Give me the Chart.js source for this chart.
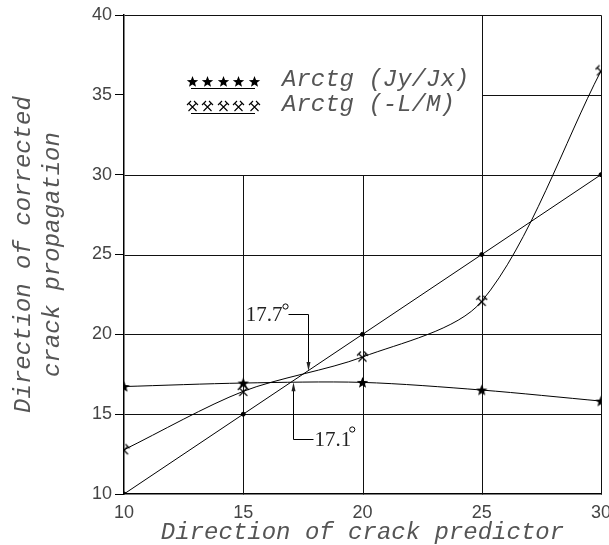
<!DOCTYPE html>
<html>
<head>
<meta charset="utf-8">
<script src="https://cdn.jsdelivr.net/npm/chart.js@4"></script>
<style>
  html, body { margin: 0; padding: 0; background: #fff; }
  #wrap { width: 609px; height: 545px; }
</style>
</head>
<body>
<div id="wrap"><canvas id="grafico"></canvas></div>
<script>
// datos
const predictor = [10, 15, 20, 25, 30]
const arctgJyJx = [16.73, 16.95, 16.99, 16.51, 15.82]
const arctgLM = [12.77, 16.43, 18.58, 22.07, 36.5]
const igualdad = [10, 15, 20, 25, 30]
const xTicks = [10, 15, 20, 25, 30]
const yTicks = [10, 15, 20, 25, 30, 35, 40]
const leyenda = ['Arctg (Jy/Jx)', 'Arctg (-L/M)']
// tramos de rejilla en unidades de datos [x1, y1, x2, y2]
const rejilla = [
  [10, 15, 30, 15], [10, 20, 30, 20], [10, 25, 30, 25], [10, 30, 30, 30],
  [25, 35, 30, 35], [10, 40, 30, 40],
  [15, 10, 15, 30], [20, 10, 20, 30], [25, 10, 25, 40], [30, 10, 30, 40],
]
const cortes = [
  { x: 17.7, y: 17.7, text: '17.7' },
  { x: 17.1, y: 17.0, text: '17.1' },
]

// marcadores
const estrella = (() => {
  const c = document.createElement('canvas')
  c.width = 13; c.height = 13
  const g = c.getContext('2d')
  g.fillStyle = '#000'
  g.beginPath()
  for (let i = 0; i < 10; i++) {
    const r = i % 2 === 0 ? 6 : 2.6
    const a = -Math.PI / 2 + i * Math.PI / 5
    const px = 6.5 + r * Math.cos(a), py = 7 + r * Math.sin(a)
    i === 0 ? g.moveTo(px, py) : g.lineTo(px, py)
  }
  g.closePath()
  g.fill()
  return c
})()

const martillos = (() => {
  const c = document.createElement('canvas')
  c.width = 13; c.height = 13
  const g = c.getContext('2d')
  g.strokeStyle = '#000'
  g.lineWidth = 1.1
  g.beginPath()
  g.moveTo(3, 3.5); g.lineTo(10.5, 11)
  g.moveTo(10, 3.5); g.lineTo(2.5, 11)
  g.moveTo(1, 5); g.lineTo(5, 1)
  g.moveTo(8, 1); g.lineTo(12, 5)
  g.stroke()
  return c
})()

const puntos = (serie) => predictor.map((x, i) => ({ x: x, y: serie[i] }))

const rejillaPlugin = {
  id: 'rejilla',
  beforeDatasetsDraw(chart) {
    const { ctx, scales } = chart
    ctx.save()
    ctx.strokeStyle = '#111'
    ctx.lineWidth = 1
    rejilla.forEach(([x1, y1, x2, y2]) => {
      ctx.beginPath()
      ctx.moveTo(Math.round(scales.x.getPixelForValue(x1)) + 0.5, Math.round(scales.y.getPixelForValue(y1)) + 0.5)
      ctx.lineTo(Math.round(scales.x.getPixelForValue(x2)) + 0.5, Math.round(scales.y.getPixelForValue(y2)) + 0.5)
      ctx.stroke()
    })
    ctx.restore()
  },
}

const notasPlugin = {
  id: 'notas',
  afterDraw(chart) {
    const { ctx, scales, chartArea } = chart
    ctx.save()
    ctx.strokeStyle = '#000'
    ctx.fillStyle = '#000'
    ctx.lineWidth = 1

    // leyenda
    const marcas = [estrella, martillos]
    const filas = [82, 107]
    marcas.forEach((img, i) => {
      const cy = filas[i]
      for (let k = 0; k < 5; k++) {
        ctx.drawImage(img, Math.round(chartArea.left + 68 + k * 15.6 - 6.5), cy - 7)
      }
      ctx.beginPath()
      ctx.moveTo(chartArea.left + 67, cy + 6.5)
      ctx.lineTo(chartArea.left + 131, cy + 6.5)
      ctx.stroke()
      ctx.font = 'italic 24px "Liberation Mono", monospace'
      ctx.fillStyle = '#555'
      ctx.textAlign = 'left'
      ctx.textBaseline = 'alphabetic'
      ctx.fillText(leyenda[i], chartArea.left + 158, cy + 4)
    })

    // anotaciones 17.7 y 17.1
    ctx.fillStyle = '#222'
    ctx.font = '21px "Liberation Serif", serif'
    ctx.textBaseline = 'middle'
    cortes.forEach((c, i) => {
      const px = Math.round(scales.x.getPixelForValue(c.x)) + 0.5
      const py = scales.y.getPixelForValue(c.y)
      const dir = i === 0 ? -1 : 1
      const codo = Math.round(py + dir * 57) + 0.5
      ctx.beginPath()
      ctx.moveTo(px, py + dir * 7)
      ctx.lineTo(px, codo)
      ctx.lineTo(px + dir * 20, codo)
      ctx.stroke()
      ctx.beginPath()
      ctx.moveTo(px, py)
      ctx.lineTo(px - 2, py + dir * 9)
      ctx.lineTo(px + 2, py + dir * 9)
      ctx.closePath()
      ctx.fill()
      if (i === 0) {
        ctx.textAlign = 'right'
        ctx.fillText(c.text, px - 26, codo + 1)
        ctx.beginPath()
        ctx.arc(px - 23, codo - 8, 2.6, 0, Math.PI * 2)
        ctx.stroke()
      } else {
        ctx.textAlign = 'left'
        ctx.fillText(c.text, px + 21, codo + 1)
        const w = ctx.measureText(c.text).width
        ctx.beginPath()
        ctx.arc(px + 21 + w + 1, codo - 10, 2.6, 0, Math.PI * 2)
        ctx.stroke()
      }
    })
    ctx.restore()
  },
}

const grafico = new Chart(document.getElementById('grafico'), {
  type: 'line',
  data: {
    datasets: [
      {
        label: 'y = x',
        data: puntos(igualdad),
        borderColor: '#000',
        borderWidth: 1,
        backgroundColor: '#000',
        pointRadius: 2,
        pointStyle: 'circle',
        tension: 0,
      },
      {
        label: leyenda[0],
        data: puntos(arctgJyJx),
        borderColor: '#000',
        borderWidth: 1,
        pointStyle: estrella,
        tension: 0.3,
      },
      {
        label: leyenda[1],
        data: puntos(arctgLM),
        borderColor: '#000',
        borderWidth: 1,
        pointStyle: martillos,
        tension: 0.3,
      },
    ],
  },
  options: {
    responsive: true,
    maintainAspectRatio: false,
    animation: false,
    events: [],
    layout: { padding: { top: 15, right: 8, left: 0, bottom: 0 } },
    plugins: {
      legend: { display: false },
      tooltip: { enabled: false },
    },
    scales: {
      x: {
        type: 'linear',
        min: 10,
        max: 30,
        afterBuildTicks: (s) => { s.ticks = xTicks.map((v) => ({ value: v })) },
        afterFit: (s) => { s.height = 51; s.paddingLeft = 0; s.paddingRight = 0 },
        border: { display: true, color: '#000', width: 1.5 },
        grid: { drawOnChartArea: false, drawTicks: false },
        ticks: {
          color: '#444',
          padding: 8,
          maxRotation: 0,
          font: { family: '"Liberation Sans", sans-serif', size: 18 },
        },
        title: {
          display: true,
          text: 'Direction of crack predictor',
          color: '#555',
          padding: 0,
          font: { family: '"Liberation Mono", monospace', size: 24, style: 'italic', lineHeight: 1 },
        },
      },
      y: {
        min: 10,
        max: 40,
        afterBuildTicks: (s) => { s.ticks = yTicks.map((v) => ({ value: v })) },
        afterFit: (s) => { s.width = 124; s.paddingTop = 0; s.paddingBottom = 0 },
        border: { display: true, color: '#000', width: 1.5 },
        grid: { drawOnChartArea: false, drawTicks: true, tickLength: 9, color: '#000' },
        ticks: {
          color: '#444',
          padding: 3,
          font: { family: '"Liberation Sans", sans-serif', size: 18 },
        },
        title: {
          display: true,
          text: ['Direction of corrected', 'crack propagation'],
          color: '#555',
          padding: { top: 9, bottom: 0 },
          font: { family: '"Liberation Mono", monospace', size: 24, style: 'italic' },
        },
      },
    },
  },
  plugins: [rejillaPlugin, notasPlugin],
})
</script>
</body>
</html>
